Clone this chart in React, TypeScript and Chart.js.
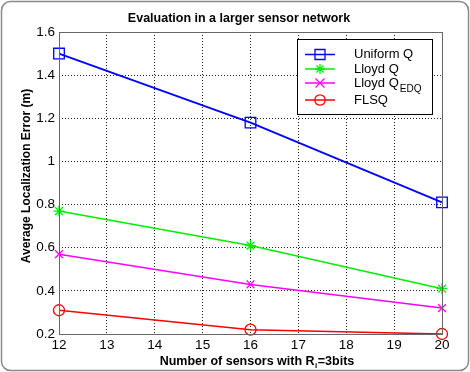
import React, { useEffect, useRef } from "react";
import { Chart, registerables } from "chart.js";

Chart.register(...registerables);

// Number of sensors (x) and average localization error in metres (y)
const sensorCounts = [12, 16, 20];
const uniformQ = [1.5, 1.18, 0.81];
const lloydQ = [0.77, 0.61, 0.41];
const lloydQEdq = [0.57, 0.43, 0.32];
const flsq = [0.31, 0.22, 0.2];

const xTicks = [12, 13, 14, 15, 16, 17, 18, 19, 20];
const yTicks = [0.2, 0.4, 0.6, 0.8, 1, 1.2, 1.4, 1.6];

const seriesNames = ["Uniform Q", "Lloyd Q", "Lloyd Q", "FLSQ"];
const seriesSubs = ["", "", "EDQ", ""];
const seriesColors = ["#0000ff", "#00ee00", "#ff00ff", "#ff0000"];
const seriesMarkers = ["rect", "star", "crossRot", "circle"];

const titleText = "Evaluation in a larger sensor network";
const yTitleText = "Average Localization Error (m)";

const W = 470;
const H = 372;
const FONT = '"Liberation Sans", Arial, sans-serif';

function drawMarker(ctx: CanvasRenderingContext2D, kind: string, x: number, y: number, color: string) {
  ctx.save();
  ctx.strokeStyle = color;
  ctx.lineWidth = 1.3;
  ctx.beginPath();
  if (kind === "rect") {
    ctx.rect(x - 5, y - 5, 10, 10);
  } else if (kind === "circle") {
    ctx.arc(x, y, 5.2, 0, Math.PI * 2);
  } else if (kind === "star") {
    const r = 5;
    ctx.moveTo(x - r, y); ctx.lineTo(x + r, y);
    ctx.moveTo(x, y - r); ctx.lineTo(x, y + r);
    const d = r * Math.SQRT1_2;
    ctx.moveTo(x - d, y - d); ctx.lineTo(x + d, y + d);
    ctx.moveTo(x - d, y + d); ctx.lineTo(x + d, y - d);
  } else {
    const d = 4.5;
    ctx.moveTo(x - d, y - d); ctx.lineTo(x + d, y + d);
    ctx.moveTo(x - d, y + d); ctx.lineTo(x + d, y - d);
  }
  ctx.stroke();
  ctx.restore();
}

const decorPlugin = {
  id: "decor",
  beforeDraw(chart: any) {
    const ctx: CanvasRenderingContext2D = chart.ctx;
    ctx.save();
    ctx.fillStyle = "#ffffff";
    ctx.fillRect(0, 0, W, H);
    // outer rounded frame
    ctx.strokeStyle = "#8a8a8a";
    ctx.lineWidth = 1.5;
    ctx.beginPath();
    ctx.roundRect(1.5, 1.5, W - 3, H - 3, 9);
    ctx.stroke();
    ctx.restore();
  },
  afterDatasetsDraw(chart: any) {
    const ctx: CanvasRenderingContext2D = chart.ctx;
    const a = chart.chartArea;
    ctx.save();
    // axes box
    ctx.strokeStyle = "#666666";
    ctx.lineWidth = 1;
    ctx.strokeRect(Math.round(a.left) + 0.5, Math.round(a.top) + 0.5, Math.round(a.right - a.left), Math.round(a.bottom - a.top));

    // legend
    const lx = 297.5, ly = 39.5, lw = 135, lh = 75;
    ctx.fillStyle = "#ffffff";
    ctx.fillRect(lx, ly, lw, lh);
    ctx.strokeStyle = "#000000";
    ctx.lineWidth = 1;
    ctx.strokeRect(lx, ly, lw, lh);
    const rows = [54.5, 69, 83, 100];
    rows.forEach((ry, i) => {
      ctx.strokeStyle = seriesColors[i];
      ctx.lineWidth = 1.5;
      ctx.beginPath();
      ctx.moveTo(305, ry);
      ctx.lineTo(335, ry);
      ctx.stroke();
      drawMarker(ctx, seriesMarkers[i], 320, ry, seriesColors[i]);
      ctx.fillStyle = "#000000";
      ctx.font = `13px ${FONT}`;
      ctx.textAlign = "left";
      ctx.textBaseline = "middle";
      ctx.fillText(seriesNames[i], 354, ry);
      if (seriesSubs[i]) {
        const w = ctx.measureText(seriesNames[i]).width;
        ctx.font = `10px ${FONT}`;
        ctx.fillText(seriesSubs[i], 354 + w + 1, ry + 6);
      }
    });

    // title
    ctx.fillStyle = "#000000";
    ctx.font = `bold 12.5px ${FONT}`;
    ctx.textAlign = "center";
    ctx.textBaseline = "middle";
    ctx.fillText(titleText, 239, 19);

    // x-axis title with subscript
    const p1 = "Number of sensors with R";
    const p2 = "i";
    const p3 = "=3bits";
    ctx.font = `bold 12.5px ${FONT}`;
    const w1 = ctx.measureText(p1).width;
    const w3 = ctx.measureText(p3).width;
    ctx.font = `bold 8px ${FONT}`;
    const w2 = ctx.measureText(p2).width;
    const total = w1 + w2 + w3;
    const x0 = 256.5 - total / 2;
    ctx.textAlign = "left";
    ctx.font = `bold 12.5px ${FONT}`;
    ctx.fillText(p1, x0, 362);
    ctx.font = `bold 8px ${FONT}`;
    ctx.fillText(p2, x0 + w1 + 0.5, 366);
    ctx.font = `bold 12.5px ${FONT}`;
    ctx.fillText(p3, x0 + w1 + w2 + 1, 362);

    // y-axis title
    ctx.translate(27, 176);
    ctx.rotate(-Math.PI / 2);
    ctx.textAlign = "center";
    ctx.font = `bold 12px ${FONT}`;
    ctx.fillText(yTitleText, 0, 0);
    ctx.restore();
  },
};

export default function App() {
  const canvasRef = useRef<HTMLCanvasElement | null>(null);

  useEffect(() => {
    if (!canvasRef.current) return;
    const mk = (vals: number[], i: number) => ({
      label: seriesNames[i] + seriesSubs[i],
      data: sensorCounts.map((x, k) => ({ x, y: vals[k] })),
      borderColor: seriesColors[i],
      backgroundColor: "rgba(0,0,0,0)",
      borderWidth: i === 0 ? 1.8 : 1.5,
      pointStyle: seriesMarkers[i] as any,
      pointRadius: seriesMarkers[i] === "rect" ? 7.5 : 5.5,
      pointBorderWidth: 1.3,
      pointBorderColor: seriesColors[i],
      pointBackgroundColor: "rgba(0,0,0,0)",
      tension: 0,
      clip: false as any,
    });
    const chart = new Chart(canvasRef.current, {
      type: "line",
      data: {
        datasets: [mk(uniformQ, 0), mk(lloydQ, 1), mk(lloydQEdq, 2), mk(flsq, 3)],
      },
      options: {
        animation: false,
        responsive: false,
        devicePixelRatio: 1,
        layout: { padding: { top: 32, right: 28, left: 0, bottom: 0 } },
        plugins: { legend: { display: false }, title: { display: false }, tooltip: { enabled: false } },
        scales: {
          x: {
            type: "linear",
            min: 12,
            max: 20,
            afterBuildTicks: (s: any) => { s.ticks = xTicks.map((v) => ({ value: v })); },
            afterFit: (s: any) => { s.height = 38; },
            grid: { color: "#222222", lineWidth: 1, drawTicks: false },
            border: { display: false, dash: [1, 2] },
            ticks: { color: "#000000", font: { family: FONT, size: 13.5 }, padding: 3, maxRotation: 0 },
          },
          y: {
            type: "linear",
            min: 0.2,
            max: 1.6,
            afterBuildTicks: (s: any) => { s.ticks = yTicks.map((v) => ({ value: v })); },
            afterFit: (s: any) => { s.width = 59; },
            grid: { color: "#222222", lineWidth: 1, drawTicks: false },
            border: { display: false, dash: [1, 2] },
            ticks: { color: "#000000", font: { family: FONT, size: 13.5 }, padding: 4, callback: (v: any) => String(Math.round(Number(v) * 10) / 10) },
          },
        },
      },
      plugins: [decorPlugin],
    });
    return () => chart.destroy();
  }, []);

  return (
    <div style={{ position: "absolute", left: 0, top: 0, width: W, height: H }}>
      <canvas ref={canvasRef} width={W} height={H} style={{ width: W, height: H, display: "block" }} />
    </div>
  );
}
